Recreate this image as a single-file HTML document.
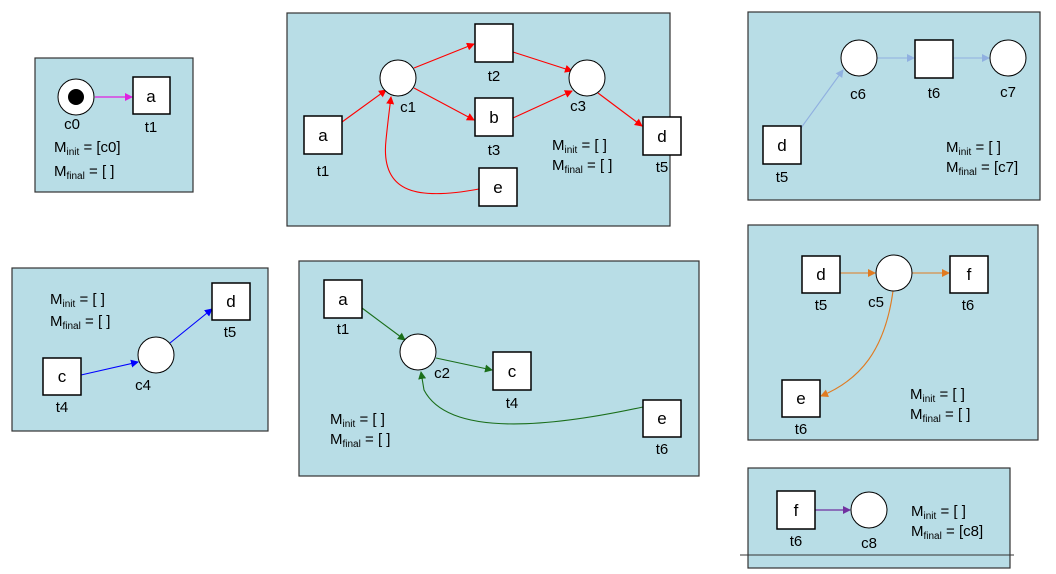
<!DOCTYPE html>
<html><head><meta charset="utf-8"><style>
body{margin:0;background:#fff;}
svg{display:block;font-family:"Liberation Sans",Arial,sans-serif;}
text{font-size:15px;fill:#000;}
.p{fill:#b8dde6;stroke:#333;stroke-width:1.2;}
.b{fill:#fff;stroke:#000;stroke-width:1.5;}
.c{fill:#fff;stroke:#000;stroke-width:1;}
.t{text-anchor:middle;font-size:17px;}
.l{text-anchor:middle;}
</style></head><body>
<svg width="1056" height="574" viewBox="0 0 1056 574">
<defs>
<marker id="mm" markerWidth="8" markerHeight="8" refX="7" refY="4" orient="auto" markerUnits="userSpaceOnUse"><path d="M0,0 L8,4 L0,8z" fill="#e020e0"/></marker>
<marker id="mr" markerWidth="8" markerHeight="8" refX="7" refY="4" orient="auto" markerUnits="userSpaceOnUse"><path d="M0,0 L8,4 L0,8z" fill="#f00"/></marker>
<marker id="mlb" markerWidth="8" markerHeight="8" refX="7" refY="4" orient="auto" markerUnits="userSpaceOnUse"><path d="M0,0 L8,4 L0,8z" fill="#90b0e0"/></marker>
<marker id="mb" markerWidth="8" markerHeight="8" refX="7" refY="4" orient="auto" markerUnits="userSpaceOnUse"><path d="M0,0 L8,4 L0,8z" fill="#00f"/></marker>
<marker id="mg" markerWidth="8" markerHeight="8" refX="7" refY="4" orient="auto" markerUnits="userSpaceOnUse"><path d="M0,0 L8,4 L0,8z" fill="#1a6e1a"/></marker>
<marker id="mo" markerWidth="8" markerHeight="8" refX="7" refY="4" orient="auto" markerUnits="userSpaceOnUse"><path d="M0,0 L8,4 L0,8z" fill="#e07a20"/></marker>
<marker id="mp" markerWidth="8" markerHeight="8" refX="7" refY="4" orient="auto" markerUnits="userSpaceOnUse"><path d="M0,0 L8,4 L0,8z" fill="#7030a0"/></marker>
</defs>

<rect class="p" x="35" y="58" width="158" height="134"/>
<rect class="p" x="287" y="13" width="383" height="213"/>
<rect class="p" x="748" y="12" width="292" height="188"/>
<rect class="p" x="12" y="268" width="256" height="163"/>
<rect class="p" x="299" y="261" width="400" height="215"/>
<rect class="p" x="748" y="225" width="290" height="215"/>
<rect class="p" x="748" y="468" width="262" height="100"/>
<line x1="740" y1="555" x2="1014" y2="555" stroke="#333" stroke-width="1"/>

<!-- P1 -->
<line x1="95" y1="97" x2="132" y2="97" stroke="#e020e0" stroke-width="1.3" marker-end="url(#mm)"/>
<circle class="c" cx="76" cy="97" r="18"/><circle cx="76" cy="97" r="8" fill="#000"/>
<rect class="b" x="133" y="77" width="37" height="37"/><text class="t" x="151" y="102">a</text>
<text class="l" x="72" y="129">c0</text><text class="l" x="151" y="132">t1</text>
<text x="54" y="152">M<tspan font-size="10" dy="3">init</tspan><tspan dy="-3"> = [c0]</tspan></text>
<text x="54" y="176">M<tspan font-size="10" dy="3">final</tspan><tspan dy="-3"> = [ ]</tspan></text>

<!-- P2 -->
<g stroke="#f00" stroke-width="1.1" fill="none">
<line x1="342" y1="122" x2="386" y2="90" marker-end="url(#mr)"/>
<line x1="414" y1="68" x2="474" y2="44" marker-end="url(#mr)"/>
<line x1="414" y1="88" x2="474" y2="120" marker-end="url(#mr)"/>
<line x1="513" y1="52" x2="572" y2="71" marker-end="url(#mr)"/>
<line x1="513" y1="118" x2="572" y2="91" marker-end="url(#mr)"/>
<line x1="598" y1="93" x2="642" y2="126" marker-end="url(#mr)"/>
<path d="M479,189 C420,200 380,195 386,140 C388,120 390,105 391,97" marker-end="url(#mr)"/>
</g>
<circle class="c" cx="398" cy="78" r="18"/><circle class="c" cx="587" cy="78" r="18"/>
<rect class="b" x="475" y="24" width="38" height="38"/>
<rect class="b" x="475" y="98" width="38" height="38"/><text class="t" x="494" y="123">b</text>
<rect class="b" x="304" y="116" width="38" height="38"/><text class="t" x="323" y="141">a</text>
<rect class="b" x="643" y="117" width="38" height="38"/><text class="t" x="662" y="142">d</text>
<rect class="b" x="479" y="168" width="38" height="38"/><text class="t" x="498" y="193">e</text>
<text class="l" x="408" y="112">c1</text><text class="l" x="494" y="81">t2</text><text class="l" x="578" y="111">c3</text>
<text class="l" x="494" y="155">t3</text><text class="l" x="323" y="176">t1</text><text class="l" x="662" y="172">t5</text>
<text x="552" y="150">M<tspan font-size="10" dy="3">init</tspan><tspan dy="-3"> = [ ]</tspan></text>
<text x="552" y="170">M<tspan font-size="10" dy="3">final</tspan><tspan dy="-3"> = [ ]</tspan></text>

<!-- P3 -->
<g stroke="#90b0e0" stroke-width="1.1">
<line x1="801" y1="128" x2="843" y2="70" marker-end="url(#mlb)"/>
<line x1="877" y1="58" x2="914" y2="58" marker-end="url(#mlb)"/>
<line x1="953" y1="58" x2="989" y2="58" marker-end="url(#mlb)"/>
</g>
<circle class="c" cx="859" cy="58" r="18"/><circle class="c" cx="1008" cy="58" r="18"/>
<rect class="b" x="915" y="40" width="38" height="38"/>
<rect class="b" x="763" y="126" width="38" height="38"/><text class="t" x="782" y="151">d</text>
<text class="l" x="858" y="99">c6</text><text class="l" x="934" y="98">t6</text><text class="l" x="1008" y="97">c7</text><text class="l" x="782" y="182">t5</text>
<text x="946" y="152">M<tspan font-size="10" dy="3">init</tspan><tspan dy="-3"> = [ ]</tspan></text>
<text x="946" y="172">M<tspan font-size="10" dy="3">final</tspan><tspan dy="-3"> = [c7]</tspan></text>

<!-- P4 -->
<g stroke="#00f" stroke-width="1.1">
<line x1="81" y1="375" x2="138" y2="362" marker-end="url(#mb)"/>
<line x1="170" y1="343" x2="212" y2="309" marker-end="url(#mb)"/>
</g>
<circle class="c" cx="156" cy="355" r="18"/>
<rect class="b" x="212" y="283" width="38" height="37"/><text class="t" x="231" y="307">d</text>
<rect class="b" x="43" y="358" width="38" height="37"/><text class="t" x="62" y="382">c</text>
<text class="l" x="230" y="337">t5</text><text class="l" x="62" y="412">t4</text><text class="l" x="143" y="390">c4</text>
<text x="50" y="304">M<tspan font-size="10" dy="3">init</tspan><tspan dy="-3"> = [ ]</tspan></text>
<text x="50" y="326">M<tspan font-size="10" dy="3">final</tspan><tspan dy="-3"> = [ ]</tspan></text>

<!-- P5 -->
<g stroke="#1a6e1a" stroke-width="1.1" fill="none">
<line x1="362" y1="308" x2="405" y2="340" marker-end="url(#mg)"/>
<line x1="436" y1="358" x2="492" y2="370" marker-end="url(#mg)"/>
<path d="M643,407 C560,425 450,440 424,390 L421,372" marker-end="url(#mg)"/>
</g>
<circle class="c" cx="418" cy="352" r="18"/>
<rect class="b" x="324" y="280" width="38" height="38"/><text class="t" x="343" y="305">a</text>
<rect class="b" x="493" y="352" width="38" height="38"/><text class="t" x="512" y="377">c</text>
<rect class="b" x="643" y="400" width="38" height="37"/><text class="t" x="662" y="424">e</text>
<text class="l" x="343" y="334">t1</text><text class="l" x="442" y="378">c2</text><text class="l" x="512" y="408">t4</text><text class="l" x="662" y="454">t6</text>
<text x="330" y="424">M<tspan font-size="10" dy="3">init</tspan><tspan dy="-3"> = [ ]</tspan></text>
<text x="330" y="444">M<tspan font-size="10" dy="3">final</tspan><tspan dy="-3"> = [ ]</tspan></text>

<!-- P6 -->
<g stroke="#e07a20" stroke-width="1.1" fill="none">
<line x1="840" y1="273" x2="875" y2="273" marker-end="url(#mo)"/>
<line x1="912" y1="273" x2="949" y2="273" marker-end="url(#mo)"/>
<path d="M893,291 C885,350 860,380 821,396" marker-end="url(#mo)"/>
</g>
<circle class="c" cx="894" cy="273" r="18"/>
<rect class="b" x="802" y="256" width="38" height="37"/><text class="t" x="821" y="280">d</text>
<rect class="b" x="950" y="256" width="38" height="37"/><text class="t" x="969" y="280">f</text>
<rect class="b" x="782" y="380" width="38" height="37"/><text class="t" x="801" y="404">e</text>
<text class="l" x="821" y="310">t5</text><text class="l" x="876" y="307">c5</text><text class="l" x="968" y="310">t6</text><text class="l" x="801" y="434">t6</text>
<text x="910" y="399">M<tspan font-size="10" dy="3">init</tspan><tspan dy="-3"> = [ ]</tspan></text>
<text x="910" y="419">M<tspan font-size="10" dy="3">final</tspan><tspan dy="-3"> = [ ]</tspan></text>

<!-- P7 -->
<line x1="815" y1="510" x2="850" y2="510" stroke="#7030a0" stroke-width="1.2" marker-end="url(#mp)"/>
<circle class="c" cx="869" cy="510" r="18"/>
<rect class="b" x="777" y="491" width="38" height="38"/><text class="t" x="796" y="516">f</text>
<text class="l" x="796" y="546">t6</text><text class="l" x="869" y="548">c8</text>
<text x="911" y="516">M<tspan font-size="10" dy="3">init</tspan><tspan dy="-3"> = [ ]</tspan></text>
<text x="911" y="536">M<tspan font-size="10" dy="3">final</tspan><tspan dy="-3"> = [c8]</tspan></text>
</svg>
</body></html>
